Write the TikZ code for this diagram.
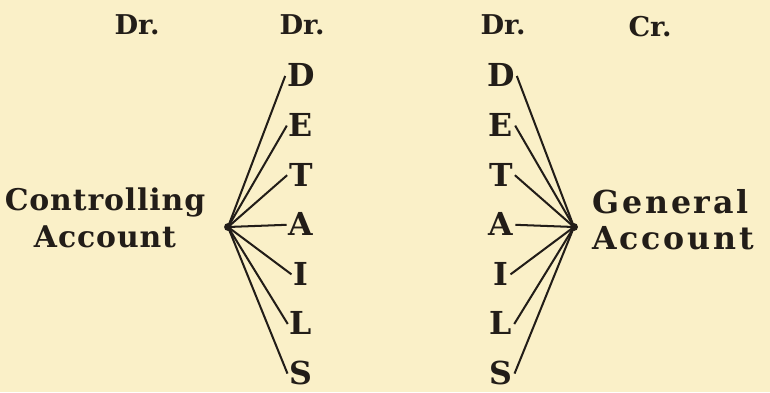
\documentclass[tikz,border=0pt]{standalone}
\usepackage{fontspec}
\setmainfont{DejaVu Serif}
\usepackage{tikz}
\definecolor{paper}{HTML}{FAF0C8}
\definecolor{ink}{HTML}{221D18}
\tikzset{
  colhead/.style={font=\bfseries\fontsize{15.5}{18}\selectfont, text=ink, inner sep=0pt},
  letr/.style={font=\bfseries\fontsize{18}{20}\selectfont, text=ink, inner sep=1pt,
               text height=12.5pt, text depth=0pt},
  acct/.style={font=\bfseries\fontsize{17}{21}\selectfont, text=ink, inner sep=0pt},
  spoke/.style={draw=ink, line width=1.15pt},
  hub/.style={circle, fill=ink, inner sep=0pt, minimum size=4.5pt},
}

\begin{document}
\begin{tikzpicture}[x=0.02cm, y=-0.02cm]
\fill[paper] (0,0) rectangle (770,392);
\useasboundingbox (0,0) rectangle (770,392);

% ========================= column heads ==================================
\node[colhead] at (137,25) (hdrA) {Dr.};
\node[colhead] at (302,25) (hdrB) {Dr.};
\node[colhead] at (503,25) (hdrC) {Dr.};
\node[colhead] at (650,27) (hdrD) {Cr.};

% ========================= the two columns of details ====================
\foreach \ch [count=\k from 0] in {D,E,T,A,I,L,S} {
  \node[letr] at (301, 76+49.6*\k) (l\ch) {\ch};
  \node[letr] at (501, 76+49.6*\k) (r\ch) {\ch};
}

% ========================= accounts ======================================
\node[hub] at (228,227) (chub) {};
\node[hub] at (574,227) (ghub) {};
\node[acct, align=center] at (105,218) (ctrl)
   {\addfontfeatures{LetterSpace=3}Controlling\\\addfontfeatures{LetterSpace=3}Account};
\node[acct, font=\bfseries\fontsize{18}{20.5}\selectfont, align=left, anchor=west]
   at (592,220) (gen)
   {\addfontfeatures{LetterSpace=9}General\\\addfontfeatures{LetterSpace=9}Account};

\foreach \ch in {D,E,T,A,I,L,S} {
  \draw[spoke] (chub.center) -- (l\ch.west);
  \draw[spoke] (r\ch.east) -- (ghub.center);
}
\end{tikzpicture}
\end{document}
